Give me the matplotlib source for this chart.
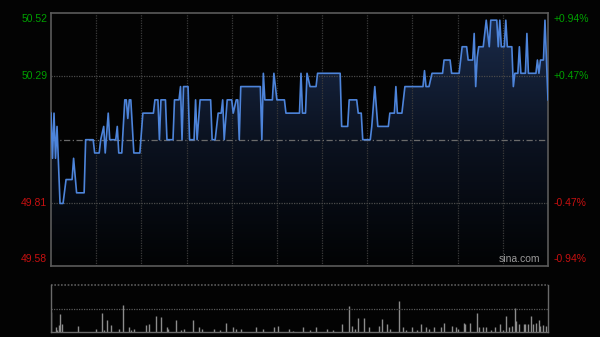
import numpy as np
import matplotlib
matplotlib.use("Agg")
import matplotlib.pyplot as plt
from matplotlib.colors import LinearSegmentedColormap

plt.rcParams['font.family'] = ['Liberation Sans', 'DejaVu Sans']

# intraday data (minutes from open, HK session 330 min)
prev_close = 50.05
price_min = [0, 1, 2, 3, 4, 6, 8, 10, 14, 15, 17, 22, 23, 28, 29, 32, 33, 35, 36, 38,
             39, 43, 44, 45, 47, 49, 50, 51, 52, 53, 55, 59, 61, 68, 69, 71, 72, 73, 76, 77,
             81, 82, 85, 86, 87, 88, 91, 92, 95, 96, 97, 99, 106, 107, 109, 111, 113, 114, 115, 117,
             120, 121, 123, 124, 125, 126, 139, 140, 141, 142, 147, 148, 150, 155, 156, 165, 166, 167, 169, 170,
             172, 176, 177, 192, 193, 197, 198, 203, 204, 206, 207, 212, 213, 215, 217, 224, 225, 228, 229, 230,
             233, 235, 247, 248, 249, 251, 253, 260, 261, 265, 266, 271, 273, 276, 277, 280, 281, 282, 283, 284,
             287, 289, 291, 292, 296, 297, 298, 299, 301, 302, 303, 306, 307, 308, 310, 311, 312, 315, 316, 317,
             322, 323, 324, 325, 327, 328, 330]
price_val = [50.15, 49.98, 50.15, 49.98, 50.10, 49.81, 49.81, 49.90, 49.90, 49.98, 49.85, 49.85, 50.05, 50.05, 50.00, 50.00, 50.05, 50.10, 50.00, 50.15,
             50.05, 50.05, 50.10, 50.00, 50.00, 50.20, 50.20, 50.13, 50.20, 50.20, 50.00, 50.00, 50.15, 50.15, 50.20, 50.20, 50.05, 50.20, 50.20, 50.05,
             50.05, 50.20, 50.20, 50.25, 50.05, 50.25, 50.25, 50.05, 50.05, 50.20, 50.05, 50.20, 50.20, 50.05, 50.05, 50.15, 50.15, 50.20, 50.05, 50.20,
             50.20, 50.15, 50.20, 50.20, 50.05, 50.25, 50.25, 50.05, 50.30, 50.20, 50.20, 50.30, 50.20, 50.20, 50.15, 50.15, 50.30, 50.15, 50.15, 50.30,
             50.25, 50.25, 50.30, 50.30, 50.10, 50.10, 50.20, 50.20, 50.15, 50.15, 50.05, 50.05, 50.10, 50.25, 50.10, 50.10, 50.15, 50.15, 50.25, 50.15,
             50.15, 50.25, 50.25, 50.31, 50.25, 50.25, 50.30, 50.30, 50.35, 50.35, 50.30, 50.30, 50.40, 50.40, 50.35, 50.35, 50.45, 50.25, 50.36, 50.40,
             50.40, 50.50, 50.40, 50.50, 50.50, 50.40, 50.50, 50.40, 50.40, 50.50, 50.40, 50.40, 50.25, 50.30, 50.30, 50.40, 50.30, 50.30, 50.45, 50.30,
             50.30, 50.35, 50.30, 50.35, 50.35, 50.50, 50.20]

vol_min = [0, 3, 4, 5, 6, 7, 18, 30, 34, 35, 37, 40, 45, 48, 52, 53, 55, 63, 65, 70,
           73, 77, 78, 83, 86, 88, 94, 98, 100, 108, 112, 116, 121, 123, 126, 136, 141, 148, 151, 158,
           161, 167, 172, 176, 183, 187, 193, 198, 200, 202, 204, 208, 211, 218, 220, 223, 225, 231, 234, 236,
           240, 243, 246, 249, 251, 254, 259, 261, 266, 269, 270, 274, 275, 278, 283, 284, 287, 289, 292, 295,
           298, 300, 302, 304, 306, 308, 309, 311, 314, 315, 317, 319, 320, 322, 324, 325, 327, 329]
vol_val = [20.0, 4.7, 2.0, 7.0, 17.7, 7.7, 6.3, 2.7, 19.3, 2.0, 12.0, 7.0, 3.0, 27.3, 5.3, 2.0, 2.7, 7.0, 7.7, 16.0,
           14.7, 5.3, 2.7, 12.0, 2.0, 2.7, 12.0, 4.7, 2.7, 2.7, 2.0, 9.3, 5.3, 2.7, 2.7, 5.3, 2.7, 4.7, 6.3, 2.7,
           1.3, 4.7, 2.0, 5.3, 2.7, 2.0, 8.0, 26.0, 6.0, 3.3, 13.7, 13.7, 4.7, 6.3, 12.7, 7.7, 2.7, 30.7, 4.7, 2.0,
           5.3, 2.0, 8.0, 4.7, 2.7, 5.3, 4.7, 8.7, 6.3, 5.3, 2.7, 8.7, 8.0, 9.3, 18.7, 4.7, 4.7, 5.3, 2.0, 4.7,
           8.0, 2.0, 16.0, 4.7, 6.0, 23.7, 11.3, 8.0, 8.0, 7.7, 8.0, 16.0, 8.0, 9.3, 12.0, 6.0, 7.0, 6.3]

left_labels = ['50.52', '50.29', '49.81', '49.58']
right_labels = ['+0.94%', '+0.47%', '-0.47%', '-0.94%']
label_vals = [50.52, 50.29, 49.81, 49.58]

bg = '#030303'
green = '#00a000'
red = '#c81010'
ylo, yhi = prev_close - 0.4755, prev_close + 0.4770

fig = plt.figure(figsize=(6.0, 3.37), dpi=100, facecolor=bg)
ax = fig.add_axes([0.085, 0.2107, 0.8283, 0.7507], facecolor=bg)
ax.set_xlim(0, 330)
ax.set_ylim(ylo, yhi)

# grid, drawn over the fill but under the price line
for m in range(30, 330, 30):
    ax.axvline(m, color='#3a3a3a', lw=0.9, ls=(0, (1, 1)), zorder=2.5)
for v in (50.29, 49.81):
    ax.axhline(v, color='#4a4a4a', lw=0.9, ls=(0, (1, 1)), zorder=2.5)
ax.axhline(prev_close, color='#6a6a6a', lw=0.9, ls=(0, (5, 2, 1, 2)), zorder=2.5)

# gradient fill under the price line
poly = ax.fill_between(price_min, price_val, ylo, color='none', lw=0)
cmap = LinearSegmentedColormap.from_list('fill', ['#020304', '#0b1220', '#1b2c4c'])
grad = np.linspace(0, 1, 256).reshape(-1, 1)
im = ax.imshow(grad, extent=[0, 330, ylo, yhi], origin='lower', aspect='auto',
               cmap=cmap, zorder=2)
im.set_clip_path(poly.get_paths()[0], transform=ax.transData)
ax.plot(price_min, price_val, color='#4d84da', lw=1.2, zorder=3)

for s in ax.spines.values():
    s.set_color('#5a5a5a')
    s.set_linewidth(1.2)
ax.set_xticks([])
ax.set_yticks([])

# price / percent labels
vas = ['top', 'center', 'center', 'bottom']
for v, l, r, va in zip(label_vals, left_labels, right_labels, vas):
    y = {'top': yhi - 0.005, 'bottom': ylo + 0.008}.get(va, v)
    c = green if v > prev_close else red
    ax.text(-2.5, y, l, color=c, fontsize=7.5, ha='right', va=va)
    ax.text(3.5 + 330, y, r, color=c, fontsize=7.5, ha='left', va=va)

ax.text(325, ylo + 0.008, 'sina.com', color='#9a9a9a', fontsize=7.5,
        ha='right', va='bottom')

# volume panel
ax2 = fig.add_axes([0.085, 0.0148, 0.8283, 0.1395], facecolor=bg)
ax2.set_xlim(0, 330)
ax2.set_ylim(0, 47)
ax2.vlines(vol_min, 0, vol_val, color='#8c8c8c', lw=1.0)
ax2.axhline(23.5, color='#5a5a5a', lw=0.9, ls=(0, (1, 1)))
ax2.axhline(47, color='#5a5a5a', lw=1.2, ls=(0, (1, 1)), clip_on=False)
ax2.spines['top'].set_visible(False)
for k in ('left', 'right', 'bottom'):
    ax2.spines[k].set_color('#6a6a6a')
    ax2.spines[k].set_linewidth(1.0)
ax2.set_xticks([])
ax2.set_yticks([])

fig.savefig('out.png', dpi=100, facecolor=bg)
